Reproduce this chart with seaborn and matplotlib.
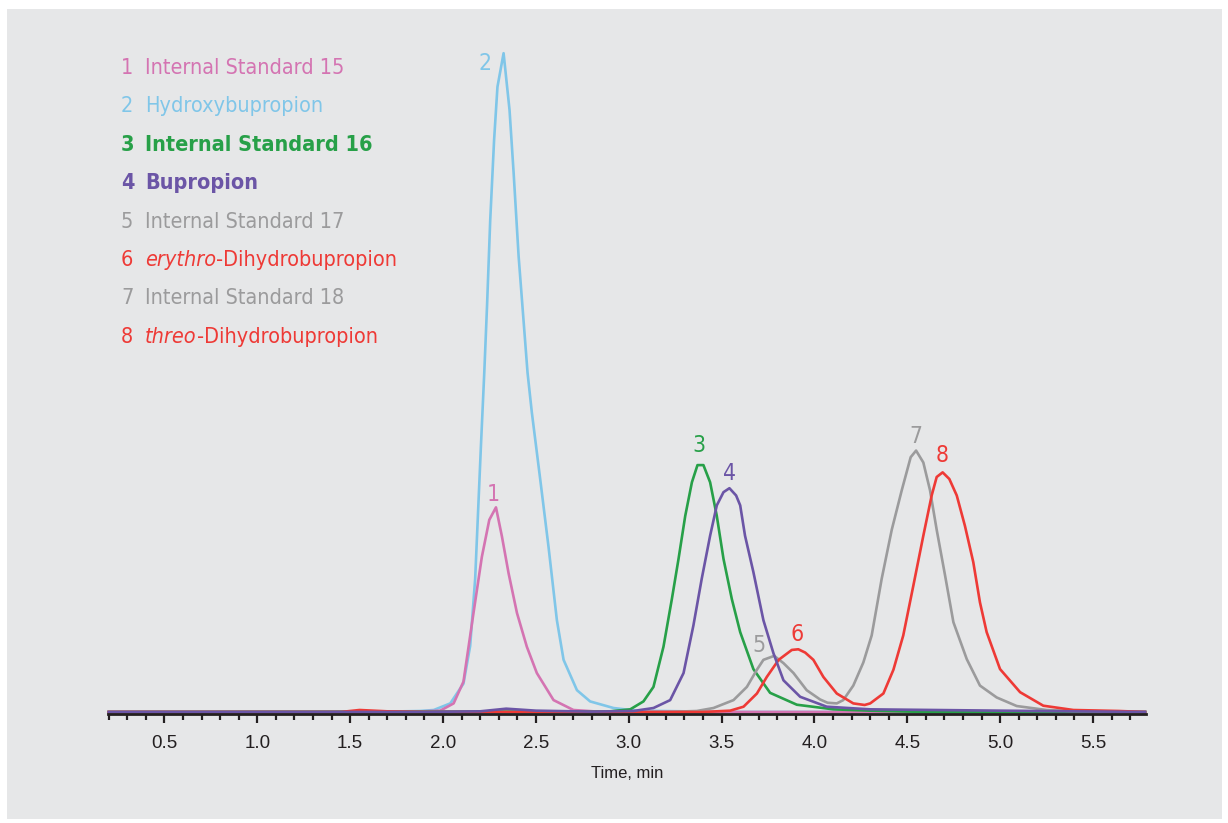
import matplotlib
matplotlib.use("Agg")
import matplotlib.pyplot as plt
import seaborn as sns
import pandas as pd
from matplotlib.ticker import MultipleLocator
from matplotlib.patches import Rectangle

# retention time (min) and relative response (% of tallest peak)
is15_t = [0.2, 1.8, 1.985, 2.057, 2.11, 2.164, 2.209, 2.249, 2.285, 2.317, 2.353, 2.398, 2.451,
          2.505, 2.595, 2.702, 2.81, 3.0, 5.78]
is15_y = [0, 0, 0.2, 1.3, 4.6, 15.0, 23.5, 29.1, 31.0, 26.6, 21.0, 15.0, 9.9,
          5.9, 1.8, 0.3, 0.1, 0, 0]

hydroxy_t = [0.2, 1.6, 1.877, 1.95, 2.039, 2.11, 2.146, 2.173, 2.204, 2.222, 2.237, 2.254, 2.275,
             2.293, 2.326, 2.358, 2.38, 2.407, 2.455, 2.478, 2.523, 2.568, 2.613, 2.649, 2.721,
             2.792, 2.918, 3.04, 3.3, 3.6, 5.78]
hydroxy_y = [0, 0, 0.15, 0.3, 1.3, 4.3, 10.0, 20.2, 40.3, 51.4, 61.6, 74.5, 86.7,
             94.7, 99.8, 91.2, 81.7, 69.0, 51.4, 45.4, 35.3, 25.0, 13.9, 7.9, 3.3,
             1.6, 0.6, 0.2, 0.1, 0, 0]

is16_t = [0.2, 2.9, 3.008, 3.079, 3.133, 3.187, 3.232, 3.268, 3.304, 3.34, 3.37, 3.402, 3.438,
          3.474, 3.51, 3.555, 3.6, 3.671, 3.761, 3.905, 4.102, 4.3, 4.6, 5.78]
is16_y = [0, 0.1, 0.4, 1.6, 3.8, 9.9, 17.1, 23.2, 29.7, 34.8, 37.4, 37.4, 34.8,
          29.7, 23.2, 17.1, 12.1, 6.5, 2.9, 1.1, 0.4, 0.2, 0, 0]

bup_t = [0.2, 1.9, 2.2, 2.34, 2.5, 2.8, 3.025, 3.133, 3.223, 3.295, 3.348, 3.393, 3.438, 3.474,
         3.51, 3.542, 3.578, 3.6, 3.626, 3.671, 3.725, 3.779, 3.833, 3.923, 4.066, 4.3, 5.0, 5.78]
bup_y = [0, 0, 0.1, 0.5, 0.2, 0.05, 0.15, 0.6, 1.8, 5.9, 13.1, 20.2, 26.7, 31.3,
         33.3, 33.9, 32.8, 31.3, 26.7, 21.2, 13.9, 8.9, 4.8, 2.3, 0.8, 0.4, 0.2, 0]

# internal standards 17 and 18 share one grey trace
is1718_t = [0.2, 3.2, 3.366, 3.456, 3.564, 3.636, 3.69, 3.725, 3.783, 3.833, 3.887, 3.958, 4.03,
            4.07, 4.12, 4.155, 4.209, 4.263, 4.308, 4.362, 4.416, 4.47, 4.518, 4.547, 4.586,
            4.622, 4.658, 4.703, 4.748, 4.82, 4.891, 4.981, 5.089, 5.25, 5.39, 5.78]
is1718_y = [0, 0, 0.15, 0.6, 1.8, 3.8, 6.4, 7.9, 8.5, 7.4, 5.9, 3.3, 1.9,
            1.4, 1.3, 1.8, 4.0, 7.5, 11.6, 20.2, 27.6, 33.6, 38.6, 39.6, 37.8,
            33.6, 27.6, 20.7, 13.6, 8.0, 4.0, 2.2, 0.9, 0.3, 0.15, 0]

# erythro- and threo-dihydrobupropion share one red trace
dihydro_t = [0.2, 1.45, 1.55, 1.7, 1.9, 3.4, 3.546, 3.618, 3.69, 3.743, 3.807, 3.878, 3.913,
             3.95, 3.994, 4.048, 4.12, 4.209, 4.27, 4.3, 4.371, 4.425, 4.478, 4.532, 4.586,
             4.631, 4.658, 4.69, 4.726, 4.766, 4.81, 4.855, 4.891, 4.927, 4.999, 5.107, 5.232,
             5.394, 5.64, 5.78]
dihydro_y = [0, 0, 0.3, 0.1, 0, 0, 0.2, 0.8, 2.8, 5.3, 7.9, 9.4, 9.5,
             9.0, 7.9, 5.3, 2.8, 1.3, 1.06, 1.3, 2.8, 6.4, 11.6, 19.1, 26.7,
             32.8, 35.6, 36.3, 35.3, 32.8, 28.2, 22.7, 16.6, 12.1, 6.5, 3.0, 0.95,
             0.3, 0.15, 0]

pink = '#d474b2'
blue = '#80c6e8'
green = '#27a048'
purple = '#6b55a6'
grey = '#9b9b9c'
red = '#ee3a36'
bg = '#e6e7e8'

traces = {
    'hydroxy': (hydroxy_t, hydroxy_y, blue),
    'is15': (is15_t, is15_y, pink),
    'is16': (is16_t, is16_y, green),
    'is1718': (is1718_t, is1718_y, grey),
    'dihydro': (dihydro_t, dihydro_y, red),
    'bup': (bup_t, bup_y, purple),
}

frames = []
for name, (t, y, c) in traces.items():
    frames.append(pd.DataFrame({'time': t, 'resp': y, 'trace': name}))
df = pd.concat(frames, ignore_index=True)

peak_nums = ['1', '2', '3', '4', '5', '6', '7', '8']
peak_names = ['Internal Standard 15', 'Hydroxybupropion', 'Internal Standard 16', 'Bupropion',
              'Internal Standard 17', 'erythro|-Dihydrobupropion', 'Internal Standard 18',
              'threo|-Dihydrobupropion']
peak_colors = [pink, blue, green, purple, grey, red, grey, red]
peak_label_t = [2.27, 2.227, 3.379, 3.54, 3.70, 3.906, 4.547, 4.687]
peak_label_y = [33.0, 98.3, 40.3, 36.2, 10.0, 11.7, 41.7, 38.8]

cond = dict(family='DejaVu Sans', stretch='condensed')

W, H = 1228, 823
fig = plt.figure(figsize=(W / 100, H / 100), dpi=100)
fig.patch.set_facecolor('white')
fig.patches.append(Rectangle((7 / W, 1 - 819 / H), 1215 / W, 810 / H, transform=fig.transFigure,
                             facecolor=bg, edgecolor='none', zorder=-5))

ax = fig.add_axes([108 / W, (H - 713.5) / H, (1146 - 108) / W, (713.5 - 40) / H])
ax.set_facecolor('none')
ax.set_zorder(2)

sns.lineplot(data=df, x='time', y='resp', hue='trace', hue_order=list(traces.keys()),
             palette={k: v[2] for k, v in traces.items()}, estimator=None, sort=False,
             linewidth=1.9, legend=False, ax=ax)
for ln in ax.lines:
    ln.set_clip_on(False)

ax.set_xlim(0.196, 5.785)
ax.set_ylim(-0.23, 101.8)
for s in ['left', 'right', 'top']:
    ax.spines[s].set_visible(False)
ax.spines['bottom'].set_linewidth(2)
ax.spines['bottom'].set_color('#231f20')
ax.set_yticks([])
ax.xaxis.set_major_locator(MultipleLocator(0.5))
ax.xaxis.set_minor_locator(MultipleLocator(0.1))
ax.tick_params(axis='x', which='major', length=6.5, width=1.6, color='#231f20', pad=9,
               labelsize=13.5, labelcolor='#231f20')
ax.tick_params(axis='x', which='minor', length=4, width=1.6, color='#231f20')
for lab in ax.get_xticklabels():
    lab.set_family(['Liberation Sans', 'DejaVu Sans'])
ax.set_xlabel('')
ax.set_ylabel('')

fig.text(627 / W, 1 - 773 / H, 'Time, min', ha='center', va='center', fontsize=12,
         color='#231f20', family=['Liberation Sans', 'DejaVu Sans'])

# peak numbers above the peaks
for num, c, tx, ty in zip(peak_nums, peak_colors, peak_label_t, peak_label_y):
    ax.text(tx, ty, num, color=c, ha='center', va='center', fontsize=16.5, **cond)

# compound list in the upper left
fig.canvas.draw()
renderer = fig.canvas.get_renderer()
fs = 15.5
for i, (num, name, c) in enumerate(zip(peak_nums, peak_names, peak_colors)):
    y = 1 - (68 + i * 38.4) / H
    weight = 'bold' if num in ('3', '4') else 'normal'
    fig.text(121 / W, y, num, color=c, ha='left', va='center', fontsize=fs, weight=weight, **cond)
    if '|' in name:
        ital, rest = name.split('|')
        t1 = fig.text(145 / W, y, ital, color=c, ha='left', va='center', fontsize=fs,
                      style='italic', **cond)
        bb = t1.get_window_extent(renderer)
        fig.text(bb.x1 / W, y, rest, color=c, ha='left', va='center', fontsize=fs, **cond)
    else:
        fig.text(145 / W, y, name, color=c, ha='left', va='center', fontsize=fs,
                 weight=weight, **cond)

fig.savefig('out.png', dpi=100)
